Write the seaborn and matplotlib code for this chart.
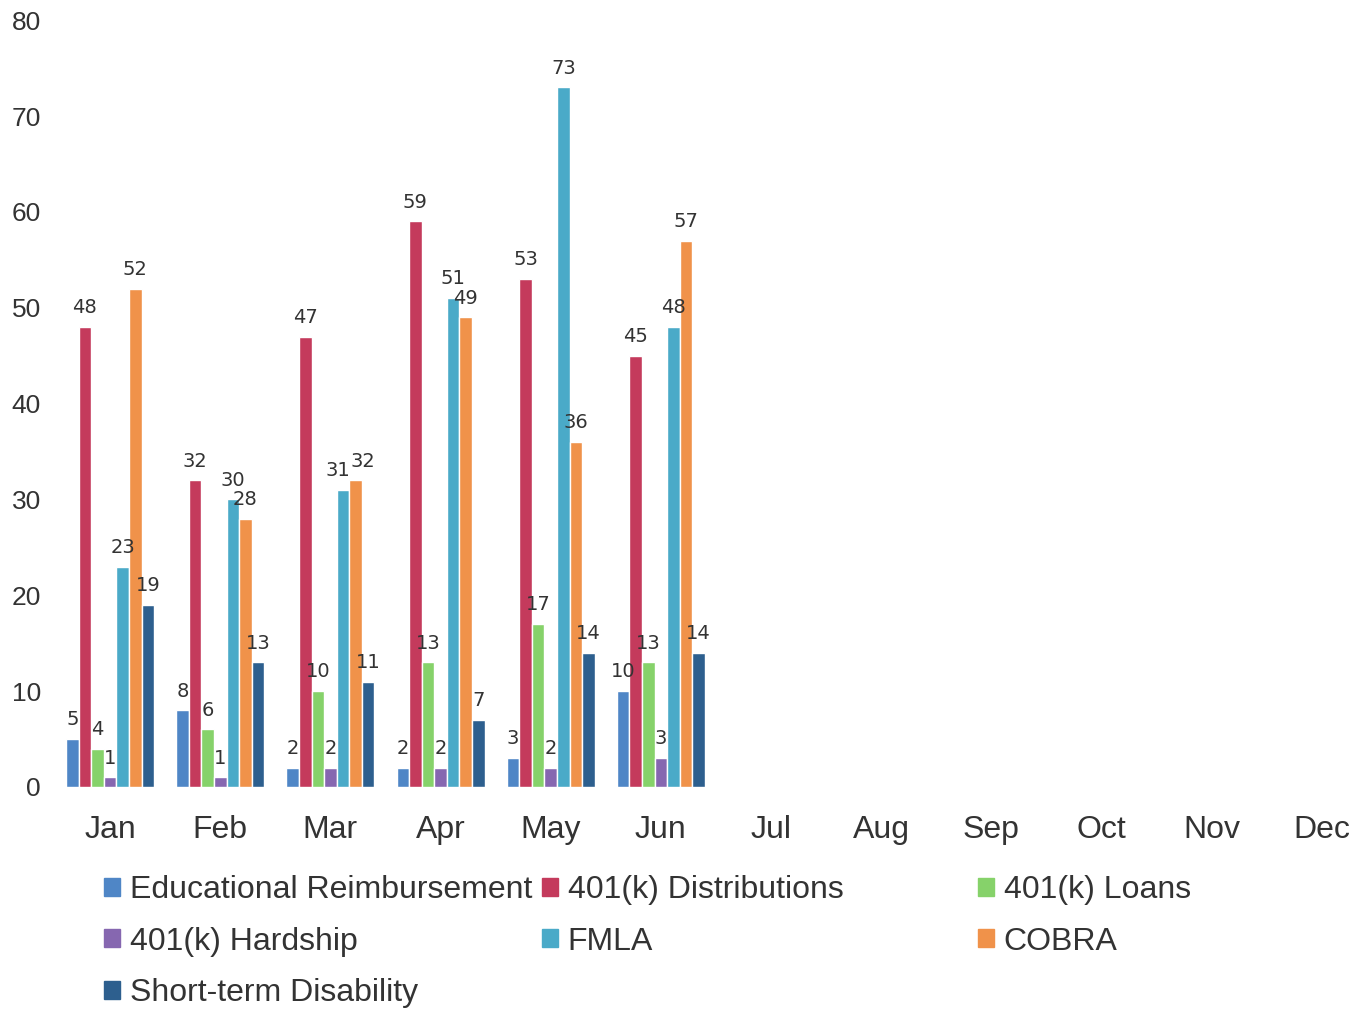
import numpy as np
import pandas as pd
import matplotlib
matplotlib.use('Agg')
import matplotlib.pyplot as plt
import matplotlib.patches as mpatches
import seaborn as sns

# Місяці та серії
months = ['Jan', 'Feb', 'Mar', 'Apr', 'May', 'Jun', 'Jul', 'Aug', 'Sep', 'Oct', 'Nov', 'Dec']
series = ['Educational Reimbursement', '401(k) Distributions', '401(k) Loans',
          '401(k) Hardship', 'FMLA', 'COBRA', 'Short-term Disability']
colors = ['#4f86c6', '#c43a5c', '#86d26a', '#8667b0', '#4aaac8', '#f0924a', '#2d5f8e']

edu = [5, 8, 2, 2, 3, 10]
dist = [48, 32, 47, 59, 53, 45]
loans = [4, 6, 10, 13, 17, 13]
hardship = [1, 1, 2, 2, 2, 3]
fmla = [23, 30, 31, 51, 73, 48]
cobra = [52, 28, 32, 49, 36, 57]
std = [19, 13, 11, 7, 14, 14]

values = [edu, dist, loans, hardship, fmla, cobra, std]
rows = []
for name, vals in zip(series, values):
    for m, v in zip(months, vals):
        rows.append({'month': m, 'series': name, 'value': v})
df = pd.DataFrame(rows)

sns.set_style('white')
plt.rcParams['font.family'] = ['Liberation Sans', 'DejaVu Sans']

fig = plt.figure(figsize=(13.6, 10.11), dpi=100)
ax = fig.add_axes([55 / 1360, 0.2216, 1322 / 1360, 0.7584])

sns.barplot(data=df, x='month', y='value', hue='series', order=months,
            hue_order=series, palette=colors, width=0.8, saturation=1,
            legend=False, ax=ax)

labels = []
for cont in ax.containers:
    labels.append(ax.bar_label(cont, padding=7, fontsize=14, color='#333333',
                               family='DejaVu Sans'))

# Підписи 31 і 32 у березні майже накладаються, трохи розсуваємо
labels[4][2].set_ha('right')
labels[4][2].set_x(labels[4][2].get_position()[0] + 5)
labels[5][2].set_ha('left')
labels[5][2].set_x(labels[5][2].get_position()[0] - 4)

ax.set_ylim(0, 80)
ax.set_yticks(range(0, 81, 10))
ax.set_xlabel('')
ax.set_ylabel('')
ax.tick_params(axis='y', labelsize=19, colors='#333333', length=0, pad=10)
ax.tick_params(axis='x', labelsize=23, colors='#333333', length=0, pad=20)
for s in ax.spines.values():
    s.set_visible(False)

# Легенда у три колонки
handles = [mpatches.Patch(color=c, label=n) for n, c in zip(series, colors)]
cols = [[0, 3, 6], [1, 4], [2, 5]]
xs = [104 / 1360, 542 / 1360, 978 / 1360]
for xpos, idx in zip(xs, cols):
    fig.legend(handles=[handles[i] for i in idx], loc='upper left',
               bbox_to_anchor=(xpos, 1 - 875 / 1011), frameon=False,
               fontsize=23, handlelength=0.5, handleheight=0.5,
               handletextpad=0.3, labelspacing=0.68, labelcolor='#333333',
               borderaxespad=0, borderpad=0)

fig.savefig('out.png', dpi=100)
